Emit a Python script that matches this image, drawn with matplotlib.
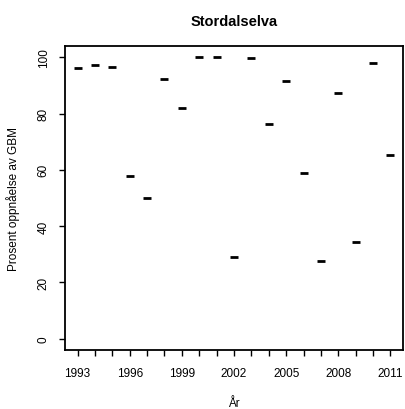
import matplotlib
matplotlib.use("Agg")
import matplotlib.pyplot as plt

plt.rcParams['font.family'] = ['Liberation Sans', 'DejaVu Sans']

years = list(range(1993, 2012))
values = [96.3, 97.2, 96.7, 57.9, 50.0, 92.4, 82.1, 100.0, 100.0, 29.2,
          99.9, 76.2, 91.7, 58.9, 27.6, 87.3, 34.2, 97.9, 65.2]
year_labels = [1993, 1996, 1999, 2002, 2005, 2008, 2011]
y_ticks = [0, 20, 40, 60, 80, 100]

fig = plt.figure(figsize=(4.05, 4.10), dpi=100)
ax = fig.add_axes([65/405, 1 - 351/410, 338/405, 304/410])

ax.plot(years, values, linestyle='none', marker='_', markersize=6,
        markeredgewidth=2.0, color='black')

ax.set_xlim(1993 - 0.72, 2011 + 0.72)
ax.set_ylim(-4, 104)

ax.set_xticks(years)
ax.set_xticklabels([str(y) if y in year_labels else '' for y in years])
ax.set_yticks(y_ticks)
ax.set_yticklabels([str(v) for v in y_ticks], rotation=90, va='center')

ax.tick_params(direction='out', length=4, width=1, labelsize=8.5)
ax.tick_params(axis='x', pad=8)
ax.tick_params(axis='y', pad=7)
for s in ax.spines.values():
    s.set_linewidth(1.3)

ax.set_title('Stordalselva', fontsize=10.5, fontweight='bold', pad=15)
ax.set_xlabel('År', fontsize=8.5)
ax.set_ylabel('Prosent oppnåelse av GBM', fontsize=8.5)
ax.yaxis.set_label_coords(-0.1346, 0.5)
ax.xaxis.set_label_coords(0.5, -0.155)

fig.savefig('out.png', dpi=100)
